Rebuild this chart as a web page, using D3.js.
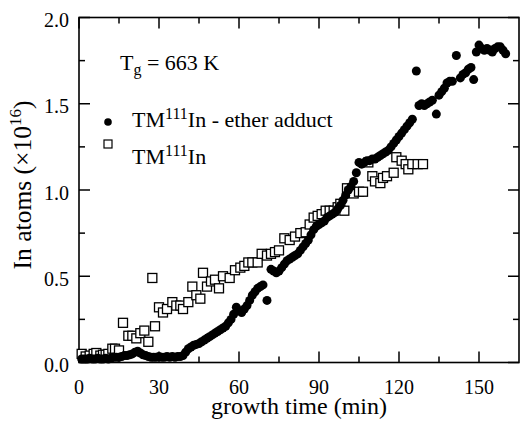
<!DOCTYPE html>
<html>
<head>
<meta charset="utf-8">
<script src="https://cdn.jsdelivr.net/npm/d3@7"></script>
<style>
  body { margin: 0; background: #fff; }
  svg text { font-family: "Liberation Serif", "Times New Roman", serif; fill: #000; }
</style>
</head>
<body>
<svg id="fig"></svg>
<script>
// TM111In - ether adduct (filled circles)
var adductTime = [1, 2, 3, 4, 5, 6, 7, 8, 9, 10, 11, 12, 13, 14, 15, 16, 17, 18, 19, 20,
  21, 22, 23, 24, 25, 26, 27, 28, 29, 30, 31, 32, 33, 34, 35, 36, 37, 38, 39,
  40, 41, 42, 43, 44, 45, 46, 47, 48, 49, 50, 51, 52, 53, 54, 55, 56, 57, 58, 59,
  60, 61, 62, 63, 64, 65, 66, 67, 68, 69, 70.5, 72, 73, 74, 75, 76, 77, 78, 79,
  80, 81, 82, 83, 84, 85, 86, 87, 88, 89, 90, 91, 92, 93, 94, 95, 96, 97, 98, 99,
  100, 101, 102, 103, 104, 105, 106, 107, 108, 109, 110, 111, 112, 113, 114, 115, 116, 117, 118, 119,
  120, 121, 122, 123, 124, 125, 126.5, 127.5, 128.5, 129.5, 130.5, 131.5, 132.5, 134, 135, 136, 137, 138, 139, 140,
  141.5, 143, 144, 145, 146, 147, 148, 149, 150, 151, 152, 153, 154, 155, 156, 157, 158, 159, 160];
var adductVal = [0.02, 0.02, 0.02, 0.025, 0.02, 0.02, 0.025, 0.02, 0.02, 0.025, 0.02, 0.025, 0.03, 0.03, 0.03, 0.035, 0.04, 0.04, 0.045, 0.05,
  0.06, 0.065, 0.055, 0.045, 0.04, 0.035, 0.03, 0.03, 0.03, 0.035, 0.03, 0.03, 0.035, 0.03, 0.035, 0.03, 0.035, 0.035, 0.04,
  0.06, 0.08, 0.09, 0.10, 0.105, 0.11, 0.12, 0.13, 0.14, 0.15, 0.16, 0.17, 0.18, 0.19, 0.20, 0.21, 0.23, 0.25, 0.28, 0.32,
  0.30, 0.29, 0.31, 0.33, 0.36, 0.39, 0.41, 0.43, 0.44, 0.45, 0.36, 0.54, 0.53, 0.52, 0.53, 0.55, 0.57, 0.59, 0.60,
  0.61, 0.62, 0.63, 0.65, 0.67, 0.69, 0.71, 0.74, 0.77, 0.79, 0.80, 0.81, 0.82, 0.84, 0.85, 0.86, 0.87, 0.89, 0.91, 0.94,
  0.97, 1.00, 1.02, 1.05, 1.10, 1.16, 1.15, 1.16, 1.17, 1.17, 1.18, 1.18, 1.19, 1.20, 1.21, 1.22, 1.23, 1.25, 1.27, 1.29,
  1.31, 1.33, 1.35, 1.37, 1.39, 1.41, 1.69, 1.49, 1.50, 1.49, 1.50, 1.51, 1.52, 1.44, 1.55, 1.57, 1.59, 1.62, 1.63, 1.63,
  1.78, 1.65, 1.67, 1.68, 1.70, 1.71, 1.64, 1.80, 1.84, 1.82, 1.81, 1.82, 1.81, 1.80, 1.82, 1.83, 1.83, 1.81, 1.79];

// TM111In (open squares)
var tmTime = [1, 2.5, 4, 5.5, 6.5, 8, 9, 10, 11, 12.5, 13.5, 15, 16.5, 18.5, 20, 21.5, 23, 24.5, 26, 27.5,
  28.5, 30, 31.5, 33, 35, 36.5, 38, 39, 41, 42.5, 44, 45.5, 46.5, 48, 49.5, 51, 52.5, 54, 56.5, 58.5,
  60.5, 62, 63.5, 65, 67, 68.5, 70.5, 72, 73.5, 75, 77, 79, 81, 83, 85, 86.5, 88, 89.5, 91, 92.5,
  94, 95.5, 97, 98, 99.5, 100.5, 101.5, 103, 105, 106.5, 108.5, 110, 111, 113, 114, 115.5, 118, 119, 121, 122.5,
  123.5, 125, 127, 129];
var tmVal = [0.05, 0.035, 0.04, 0.05, 0.055, 0.04, 0.045, 0.045, 0.05, 0.08, 0.08, 0.07, 0.23, 0.155, 0.155, 0.14, 0.17, 0.185, 0.12, 0.49,
  0.21, 0.32, 0.29, 0.31, 0.35, 0.33, 0.33, 0.31, 0.35, 0.44, 0.39, 0.37, 0.52, 0.44, 0.47, 0.48, 0.43, 0.50, 0.49, 0.535,
  0.55, 0.56, 0.58, 0.58, 0.58, 0.63, 0.62, 0.63, 0.64, 0.65, 0.72, 0.71, 0.73, 0.75, 0.755, 0.80, 0.84, 0.85, 0.86, 0.88,
  0.88, 0.88, 0.90, 0.92, 0.88, 1.01, 0.99, 0.98, 0.99, 0.99, 1.16, 1.08, 1.05, 1.04, 1.07, 1.08, 1.10, 1.19, 1.17, 1.15,
  1.12, 1.15, 1.15, 1.15];

var xMajor = [0, 30, 60, 90, 120, 150];
var xMinor = [15, 45, 75, 105, 135];
var yMajor = [0, 0.5, 1.0, 1.5, 2.0];
var yMinor = [0.25, 0.75, 1.25, 1.75];

var W = 520, H = 423;
var pLeft = 79, pRight = 519, pTop = 17.5, pBottom = 362.5; // plot frame
var tickBig = 11, tickSmall = 6;

var x = d3.scaleLinear().domain([0, 165]).range([pLeft, pRight]);
var y = d3.scaleLinear().domain([0, 2]).range([pBottom, pTop]);

var svg = d3.select("#fig").attr("width", W).attr("height", H);

// Helper for tick marks pointing inward
function tick(x1, y1, x2, y2) {
  svg.append("line").attr("x1", x1).attr("y1", y1).attr("x2", x2).attr("y2", y2)
    .attr("stroke", "black").attr("stroke-width", 1.5);
}

// Frame
svg.append("rect").attr("x", pLeft).attr("y", pTop)
  .attr("width", pRight - pLeft).attr("height", pBottom - pTop)
  .attr("fill", "none").attr("stroke", "black").attr("stroke-width", 1.6);

// Ticks on all four sides
xMajor.concat(xMinor).forEach(function(t) {
  var len = xMajor.indexOf(t) >= 0 ? tickBig : tickSmall;
  tick(x(t), pBottom, x(t), pBottom - len);
  tick(x(t), pTop, x(t), pTop + len);
});
yMajor.concat(yMinor).forEach(function(v) {
  var len = yMajor.indexOf(v) >= 0 ? tickBig : tickSmall;
  tick(pLeft, y(v), pLeft + len, y(v));
  tick(pRight, y(v), pRight - len, y(v));
});

// Tick labels
svg.append("g").selectAll("text").data(xMajor).enter().append("text")
  .attr("x", function(d) { return x(d); })
  .attr("y", 394)
  .attr("text-anchor", "middle")
  .style("font-size", "20px")
  .text(function(d) { return d; });
svg.append("g").selectAll("text").data(yMajor).enter().append("text")
  .attr("x", 69)
  .attr("y", function(d) { return y(d) + 9.5; })
  .attr("text-anchor", "end")
  .style("font-size", "20px")
  .text(function(d) { return d.toFixed(1); });

// Axis titles
svg.append("text").attr("x", 299).attr("y", 414)
  .attr("text-anchor", "middle").style("font-size", "24px")
  .text("growth time (min)");
var yt = svg.append("text")
  .attr("transform", "translate(31,185) rotate(-90)")
  .attr("text-anchor", "middle").style("font-size", "25.5px");
yt.append("tspan").text("In atoms (\u00d710");
yt.append("tspan").attr("dy", -10).style("font-size", "17px").text("16");
yt.append("tspan").attr("dy", 10).text(")");

// Data: open squares first, circles drawn on top
var sq = 9;
svg.append("g").selectAll("rect").data(d3.range(tmTime.length)).enter().append("rect")
  .attr("x", function(i) { return x(tmTime[i]) - sq / 2; })
  .attr("y", function(i) { return y(tmVal[i]) - sq / 2; })
  .attr("width", sq).attr("height", sq)
  .attr("fill", "white").attr("stroke", "black").attr("stroke-width", 1.3);
svg.append("g").selectAll("circle").data(d3.range(adductTime.length)).enter().append("circle")
  .attr("cx", function(i) { return x(adductTime[i]); })
  .attr("cy", function(i) { return y(adductVal[i]); })
  .attr("r", 4.5)
  .attr("fill", "black");

// Temperature note
var tg = svg.append("text").attr("x", 120).attr("y", 70).style("font-size", "22px");
tg.append("tspan").text("T");
tg.append("tspan").attr("dy", 5).style("font-size", "16px").text("g");
tg.append("tspan").attr("dy", -5).text(" = 663 K");

// Legend
svg.append("circle").attr("cx", 108).attr("cy", 122).attr("r", 3.8).attr("fill", "black");
svg.append("rect").attr("x", 104).attr("y", 140).attr("width", 8).attr("height", 8)
  .attr("fill", "white").attr("stroke", "black").attr("stroke-width", 1.2);

function legendText(yPos, tail) {
  var t = svg.append("text").attr("x", 132).attr("y", yPos).style("font-size", "22px");
  t.append("tspan").text("TM");
  t.append("tspan").attr("dy", -8).style("font-size", "16px").text("111");
  t.append("tspan").attr("dy", 8).text("In" + tail);
}
legendText(127, " - ether adduct");
legendText(164, "");
</script>
</body>
</html>
